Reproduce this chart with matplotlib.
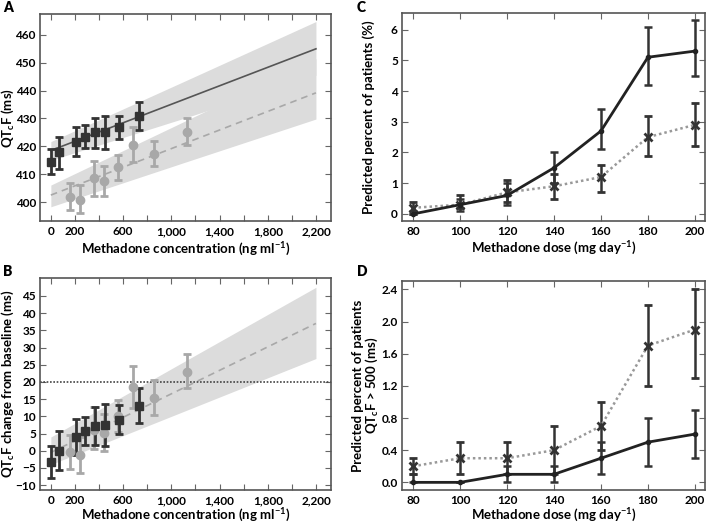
import matplotlib
matplotlib.use("Agg")
import matplotlib.pyplot as plt
from matplotlib.ticker import FixedLocator, FixedFormatter

plt.rcParams["font.family"] = ["Lato", "DejaVu Sans"]
plt.rcParams["font.weight"] = "bold"
plt.rcParams["mathtext.default"] = "regular"

# --- Panel A / B : concentration-QTcF ---
conc_dark = [0, 69, 207, 282, 365, 448, 567, 730]
qtc_dark = [414.3, 417.8, 421.6, 423.4, 425.0, 425.3, 426.8, 430.8]
qtc_dark_lo = [410.0, 412.0, 416.5, 419.5, 419.5, 419.0, 422.8, 426.0]
qtc_dark_hi = [419.0, 423.5, 427.0, 427.5, 430.0, 431.0, 431.0, 436.0]

conc_light = [163, 246, 357, 440, 556, 683, 858, 1126]
qtc_light = [401.8, 400.9, 408.5, 407.5, 412.5, 420.5, 417.2, 425.3]
qtc_light_lo = [397.0, 396.0, 402.3, 402.3, 408.0, 414.5, 413.0, 420.5]
qtc_light_hi = [407.0, 406.0, 414.8, 413.0, 417.0, 427.0, 422.0, 430.2]

fit_x = [0, 1100, 2200]
fit_dark = [418.5, 436.75, 455.0]
band_dark_lo = [415.0, 430.0, 445.5]
band_dark_hi = [421.7, 443.2, 464.8]
fit_light = [402.5, 420.85, 439.2]
band_light_lo = [398.3, 414.1, 429.8]
band_light_hi = [406.1, 428.8, 451.5]

dq_dark = [-3.4, 0.0, 3.9, 5.7, 7.2, 7.6, 9.0, 13.1]
dq_dark_lo = [-7.8, -5.6, -1.3, 1.8, 1.8, 1.4, 5.0, 8.1]
dq_dark_hi = [1.4, 5.7, 9.1, 9.9, 12.6, 13.5, 13.3, 18.1]
dq_light = [-0.3, -1.3, 6.0, 5.3, 10.1, 18.5, 15.2, 23.0]
dq_light_lo = [-5.2, -6.4, 0.4, -0.2, 5.5, 12.3, 10.5, 18.2]
dq_light_hi = [4.7, 3.9, 12.6, 10.8, 14.7, 24.5, 20.5, 28.0]
dq_fit = [-0.5, 18.25, 37.0]
dq_band_lo = [-4.0, 11.4, 26.8]
dq_band_hi = [4.0, 25.8, 47.5]
dq_threshold = 20

conc_ticks = [0, 200, 400, 600, 800, 1000, 1200, 1400, 1600, 1800, 2000, 2200]
conc_labels = ["0", "200", "", "600", "", "1,000", "", "1,400", "", "1,800", "", "2,200"]

# --- Panel C / D : dose ---
dose = [80, 100, 120, 140, 160, 180, 200]
c_solid = [0.0, 0.3, 0.6, 1.5, 2.7, 5.1, 5.3]
c_solid_lo = [0.0, 0.1, 0.3, 1.0, 2.1, 4.2, 4.5]
c_solid_hi = [0.1, 0.5, 1.0, 2.0, 3.4, 6.1, 6.3]
c_dot = [0.2, 0.3, 0.7, 0.9, 1.2, 2.5, 2.9]
c_dot_lo = [0.0, 0.2, 0.4, 0.5, 0.7, 1.9, 2.2]
c_dot_hi = [0.4, 0.6, 1.1, 1.3, 1.6, 3.2, 3.6]

d_solid = [0.0, 0.0, 0.1, 0.1, 0.3, 0.5, 0.6]
d_solid_lo = [0.0, 0.0, 0.0, 0.0, 0.1, 0.2, 0.3]
d_solid_hi = [0.1, 0.0, 0.2, 0.2, 0.5, 0.8, 0.9]
d_dot = [0.2, 0.3, 0.3, 0.4, 0.7, 1.7, 1.9]
d_dot_lo = [0.1, 0.1, 0.1, 0.1, 0.4, 1.2, 1.3]
d_dot_hi = [0.3, 0.5, 0.5, 0.7, 1.0, 2.2, 2.4]

DARK = "#333333"
LIGHT = "#a8a8a8"
BAND = "#dcdcdc"
LABEL_SIZE = 9.5


def err(vals, lo, hi):
    return [[v - l for v, l in zip(vals, lo)], [h - v for v, h in zip(vals, hi)]]


def style_axes(ax, xlab_y, ylab_x):
    for s in ax.spines.values():
        s.set_color("#555555")
        s.set_linewidth(1.2)
    ax.tick_params(direction="in", top=True, right=True, length=4,
                   width=0.8, color="#666666", labelsize=8.5, pad=3.5)
    ax.tick_params(axis="y", pad=3)
    for t in ax.get_xticklabels() + ax.get_yticklabels():
        t.set_fontweight("bold")
    ax.xaxis.set_label_coords(0.5, xlab_y)
    ax.yaxis.set_label_coords(ylab_x, 0.5)
    ax.xaxis.label.set_va("center")
    ax.yaxis.label.set_va("center")


fig = plt.figure(figsize=(7.06, 5.23), dpi=100)
W, H = 706.0, 523.0


def add_ax(l, t, r, b):
    return fig.add_axes([l / W, 1 - b / H, (r - l) / W, (b - t) / H])


ax_a = add_ax(40, 14, 331, 221)
ax_b = add_ax(40, 278, 331, 490)
ax_c = add_ax(402, 13, 705, 221)
ax_d = add_ax(402, 281, 705, 490)

# Panel A
ax_a.fill_between(fit_x, band_light_lo, band_light_hi, color=BAND, lw=0)
ax_a.fill_between(fit_x, band_dark_lo, band_dark_hi, color=BAND, lw=0)
ax_a.plot(fit_x, fit_dark, color="#555555", lw=1.2)
ax_a.plot(fit_x, fit_light, color=LIGHT, lw=1.2, ls=(0, (4, 3)))
ax_a.errorbar(conc_light, qtc_light, yerr=err(qtc_light, qtc_light_lo, qtc_light_hi),
              fmt="o", ms=6, color=LIGHT, ecolor=LIGHT, elinewidth=2, capsize=3, capthick=2)
ax_a.errorbar(conc_dark, qtc_dark, yerr=err(qtc_dark, qtc_dark_lo, qtc_dark_hi),
              fmt="s", ms=6, color=DARK, ecolor=DARK, elinewidth=2, capsize=3, capthick=2)
ax_a.set_xlim(-90, 2325)
ax_a.set_ylim(393.2, 467.5)
ax_a.set_yticks(range(400, 461, 10))
ax_a.xaxis.set_major_locator(FixedLocator(conc_ticks))
ax_a.xaxis.set_major_formatter(FixedFormatter(conc_labels))
ax_a.set_xlabel("Methadone concentration (ng ml$^{-1}$)", fontsize=LABEL_SIZE, fontweight="bold")
ax_a.set_ylabel("QT$_c$F (ms)", fontsize=LABEL_SIZE, fontweight="bold")
style_axes(ax_a, -0.135, -0.111)

# Panel B
ax_b.fill_between(fit_x, dq_band_lo, dq_band_hi, color=BAND, lw=0)
ax_b.plot(fit_x, dq_fit, color=LIGHT, lw=1.2, ls=(0, (4, 3)))
ax_b.axhline(dq_threshold, color="#444444", lw=1.2, ls=(0, (1, 1)))
ax_b.errorbar(conc_light, dq_light, yerr=err(dq_light, dq_light_lo, dq_light_hi),
              fmt="o", ms=6, color=LIGHT, ecolor=LIGHT, elinewidth=2, capsize=3, capthick=2)
ax_b.errorbar(conc_dark, dq_dark, yerr=err(dq_dark, dq_dark_lo, dq_dark_hi),
              fmt="s", ms=6, color=DARK, ecolor=DARK, elinewidth=2, capsize=3, capthick=2)
ax_b.set_xlim(-90, 2325)
ax_b.set_ylim(-11.4, 50.2)
ax_b.set_yticks(range(-10, 46, 5))
ax_b.xaxis.set_major_locator(FixedLocator(conc_ticks))
ax_b.xaxis.set_major_formatter(FixedFormatter(conc_labels))
ax_b.set_xlabel("Methadone concentration (ng ml$^{-1}$)", fontsize=LABEL_SIZE, fontweight="bold")
ax_b.set_ylabel("QT$_c$F change from baseline (ms)", fontsize=LABEL_SIZE, fontweight="bold")
style_axes(ax_b, -0.12, -0.111)

# Panel C
ax_c.errorbar(dose, c_dot, yerr=err(c_dot, c_dot_lo, c_dot_hi), fmt="x", ms=6, mew=2,
              color=DARK, ecolor=DARK, elinewidth=1.8, capsize=3, capthick=1.8)
ax_c.plot(dose, c_dot, color="#999999", lw=1.8, ls=(0, (1, 1.2)))
ax_c.errorbar(dose, c_solid, yerr=err(c_solid, c_solid_lo, c_solid_hi), fmt="-o", ms=3,
              lw=2, color="#222222", ecolor=DARK, elinewidth=1.8, capsize=3, capthick=1.8)
ax_c.set_xlim(75.3, 204.3)
ax_c.set_ylim(-0.23, 6.54)
ax_c.set_xticks(dose)
ax_c.set_yticks(range(0, 7))
ax_c.set_xlabel("Methadone dose (mg day$^{-1}$)", fontsize=LABEL_SIZE, fontweight="bold")
ax_c.set_ylabel("Predicted percent of patients (%)", fontsize=LABEL_SIZE, fontweight="bold")
style_axes(ax_c, -0.133, -0.109)

# Panel D
ax_d.errorbar(dose, d_dot, yerr=err(d_dot, d_dot_lo, d_dot_hi), fmt="x", ms=6, mew=2,
              color=DARK, ecolor=DARK, elinewidth=1.8, capsize=3, capthick=1.8)
ax_d.plot(dose, d_dot, color="#999999", lw=1.8, ls=(0, (1, 1.2)))
ax_d.errorbar(dose, d_solid, yerr=err(d_solid, d_solid_lo, d_solid_hi), fmt="-o", ms=3,
              lw=2, color="#222222", ecolor=DARK, elinewidth=1.8, capsize=3, capthick=1.8)
ax_d.set_xlim(75.3, 204.3)
ax_d.set_ylim(-0.095, 2.504)
ax_d.set_xticks(dose)
ax_d.set_yticks([0.0, 0.4, 0.8, 1.2, 1.6, 2.0, 2.4])
ax_d.set_yticklabels(["0.0", "0.4", "0.8", "1.2", "1.6", "2.0", "2.4"])
ax_d.set_xlabel("Methadone dose (mg day$^{-1}$)", fontsize=LABEL_SIZE, fontweight="bold")
ax_d.set_ylabel("Predicted percent of patients\nQT$_c$F > 500 (ms)", fontsize=LABEL_SIZE,
                fontweight="bold", linespacing=1.0)
style_axes(ax_d, -0.12, -0.12)

# panel letters
for letter, (px, py) in zip("ABCD", [(3, 8), (3, 271), (357, 8), (357, 271)]):
    fig.text(px / W, 1 - py / H, letter, fontsize=10, fontweight="heavy", va="center")

fig.savefig("out.png", dpi=100)
